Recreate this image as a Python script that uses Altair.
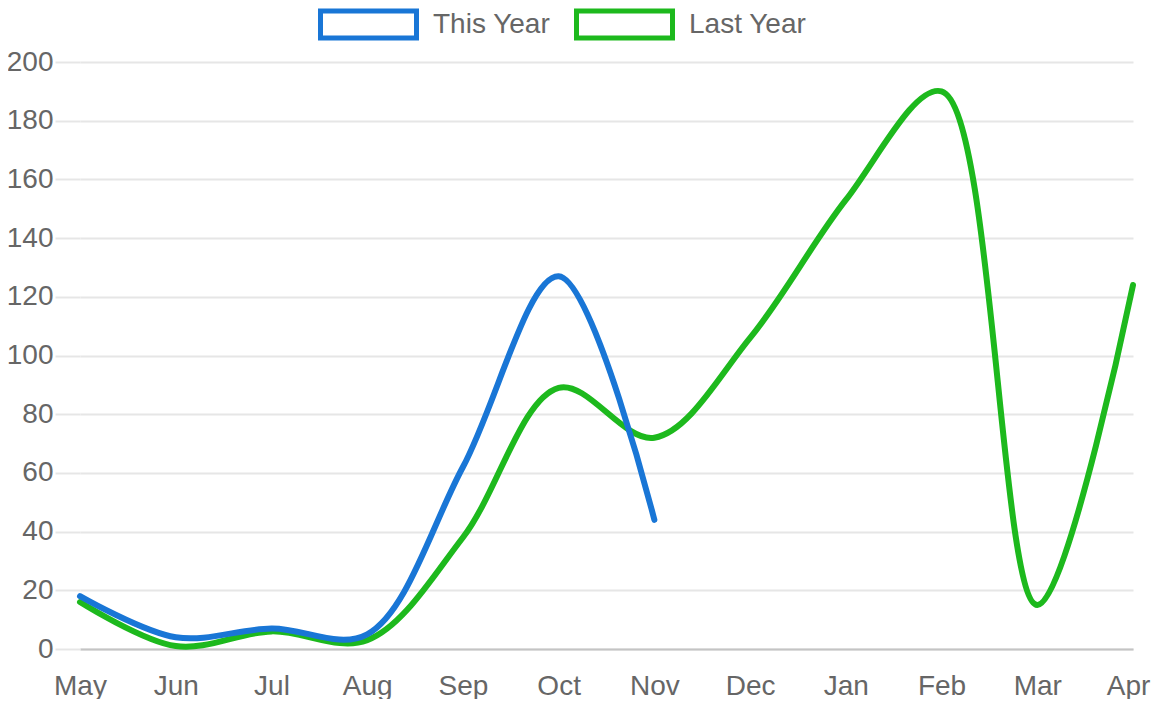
import altair as alt
import pandas as pd

months = ["May", "Jun", "Jul", "Aug", "Sep", "Oct", "Nov", "Dec", "Jan", "Feb", "Mar", "Apr"]
this_year = [18, 4, 7, 5, 62, 127, 44]
last_year = [16, 1, 6, 3, 38, 89, 72, 106, 153, 190, 15, 124]
series = ["This Year", "Last Year"]
colors = ["#1976D6", "#1DB91D"]

rows = []
for i, v in enumerate(last_year):
    rows.append({"month": months[i], "series": "Last Year", "value": v, "order": 0})
for i, v in enumerate(this_year):
    rows.append({"month": months[i], "series": "This Year", "value": v, "order": 1})
df = pd.DataFrame(rows)

FONT = "Liberation Sans"

chart = alt.Chart(df).mark_line(
    interpolate="catmull-rom", strokeWidth=6, strokeCap="round", strokeJoin="round"
).encode(
    x=alt.X("month:N", sort=months, scale=alt.Scale(type="point", padding=0),
            axis=alt.Axis(title=None, grid=False, ticks=False, labelPadding=23, labelAngle=0,
                          labelOffset={"condition": {"test": "datum.value === 'Apr'", "value": -5}, "value": 0},
                          domainColor="#c4c4c4", domainWidth=2)),
    y=alt.Y("value:Q", scale=alt.Scale(domain=[0, 200], nice=False),
            axis=alt.Axis(title=None, values=list(range(0, 201, 20)), tickSize=25, tickColor="#e6e6e6",
                          tickWidth=2, gridColor="#e6e6e6", gridWidth=2, domain=False, labelPadding=2)),
    color=alt.Color("series:N", scale=alt.Scale(domain=series, range=colors),
                    legend=alt.Legend(title=None, orient="none", direction="horizontal", columns=2,
                                      legendX=238, legendY=-88,
                                      symbolType="M-1,-0.28H1V0.28H-1Z", symbolSize=9216,
                                      symbolStrokeWidth=5, symbolFillColor="#ffffff",
                                      labelFontSize=28, labelColor="#666666", labelFont=FONT,
                                      labelOffset=14, columnPadding=15)),
    order=alt.Order("order:Q"),
).properties(
    width=1053, height=587,
    autosize=alt.AutoSizeParams(type="none"),
    padding={"left": 72, "top": 54, "right": 20, "bottom": 50},
).configure_axis(
    labelFontSize=28, labelColor="#666666", labelFont=FONT,
).configure_view(stroke=None)

chart.save("out.html", embed_options={"renderer": "svg", "actions": False})
